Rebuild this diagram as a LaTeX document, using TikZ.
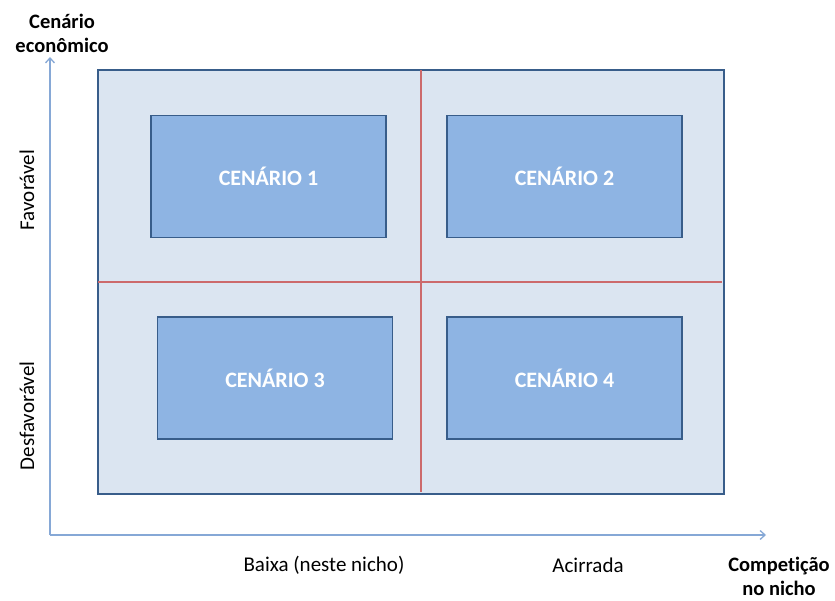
\documentclass[tikz,border=0pt]{standalone}
\usepackage{fontspec}
\setmainfont[Ligatures=NoCommon]{Carlito}
\usetikzlibrary{arrows.meta}
\definecolor{bgfill}{HTML}{DBE5F1}
\definecolor{darkedge}{HTML}{385D8A}
\definecolor{boxfill}{HTML}{8EB4E3}
\definecolor{redline}{HTML}{CC6A6C}
\definecolor{axiscol}{HTML}{86A8D6}
\tikzset{
  scenbox/.style={draw=darkedge, line width=1.8pt, fill=boxfill, minimum width=235pt, minimum height=122pt, inner sep=0pt, text=white, font=\fontsize{22}{26}\selectfont\bfseries},
  axislabel/.style={font=\fontsize{21}{25}\selectfont, text=black, inner sep=0pt},
  titlelabel/.style={font=\fontsize{20.5}{24}\selectfont\bfseries, align=center, inner sep=0pt},
  axisline/.style={draw=axiscol, line width=1.3pt, -{Straight Barb[length=5pt,width=9pt,line width=1.3pt]}},
  divline/.style={draw=redline, line width=2pt}
}
\begin{document}
\begin{tikzpicture}[x=1pt,y=-1pt]
\useasboundingbox (0,0) rectangle (835,601);
\fill[white] (0,0) rectangle (835,601);
% outer panel
\node[draw=darkedge, line width=1.6pt, fill=bgfill, minimum width=626pt, minimum height=424pt, inner sep=0pt, anchor=north west] (panel) at (97,69) {};
\coordinate (vt) at (421,70);
\coordinate (vb) at (421,492);
\draw[divline] (vt) -- (vb);
\coordinate (hl) at (98,282);
\coordinate (hr) at (722,282);
\draw[divline] (hl) -- (hr);
% scenario boxes
\node[scenbox] (c1) at (268.5,176.5) {CENÁRIO 1};
\node[scenbox] (c2) at (564.5,176.5) {CENÁRIO 2};
\node[scenbox] (c3) at (275,378) {CENÁRIO 3};
\node[scenbox] (c4) at (564.5,378) {CENÁRIO 4};
% axes
\coordinate (origin) at (50,535);
\coordinate (ytop) at (50,57);
\coordinate (xend) at (766,535);
\draw[axisline] (origin) -- (ytop);
\draw[axisline] (origin) -- (xend);
% labels
\node[titlelabel] (ytitle) at (62,33) {Cenário\\econômico};
\node[titlelabel] (xtitle) at (779,576) {Competição\\no nicho};
\node[axislabel, rotate=90] (fav) at (27,190) {Favorável};
\node[axislabel, rotate=90] (desf) at (27,416) {Desfavorável};
\node[axislabel] (baixa) at (324,565) {Baixa (neste nicho)};
\node[axislabel] (acir) at (588,565) {Acirrada};
\end{tikzpicture}
\end{document}
